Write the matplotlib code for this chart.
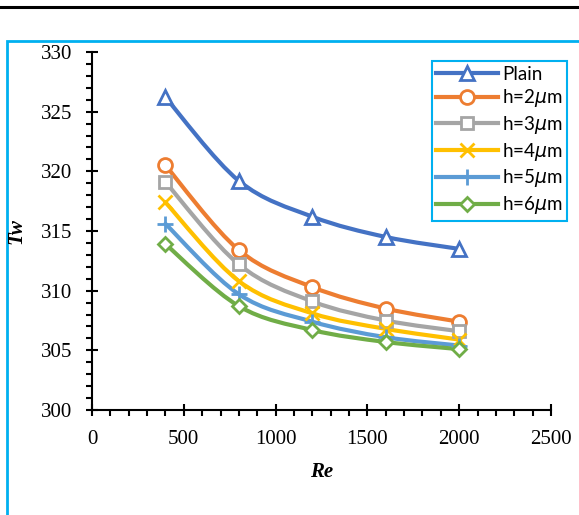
import numpy as np
import matplotlib
matplotlib.use("Agg")
import matplotlib.pyplot as plt
from matplotlib.path import Path
from matplotlib.patches import PathPatch, Rectangle
from matplotlib.lines import Line2D
from matplotlib.ticker import MultipleLocator

# Wall temperature vs Reynolds number
re_vals = [400, 800, 1200, 1600, 2000]
plain = [326.2, 319.2, 316.2, 314.5, 313.5]
h2 = [320.5, 313.4, 310.3, 308.5, 307.4]
h3 = [319.1, 312.2, 309.1, 307.5, 306.6]
h4 = [317.4, 310.8, 308.1, 306.8, 305.9]
h5 = [315.6, 309.7, 307.4, 306.1, 305.4]
h6 = [313.9, 308.7, 306.7, 305.7, 305.1]

labels = ["Plain", r"h=2$\mu$m", r"h=3$\mu$m", r"h=4$\mu$m", r"h=5$\mu$m", r"h=6$\mu$m"]
series = [plain, h2, h3, h4, h5, h6]
colors = ["#4472C4", "#ED7D31", "#A5A5A5", "#FFC000", "#5B9BD5", "#70AD47"]
markers = ["^", "o", "s", "x", "+", "D"]
msizes = [10, 10, 9, 10, 11, 7]

plt.rcParams["font.family"] = "Liberation Serif"
plt.rcParams["mathtext.fontset"] = "dejavusans"


def smooth_path(x, y):
    # Excel-like smoothed line built from cubic Bezier segments
    pts = np.column_stack([x, y]).astype(float)
    n = len(pts)
    verts = [pts[0]]
    codes = [Path.MOVETO]
    for i in range(n - 1):
        p0 = pts[i - 1] if i > 0 else pts[i]
        p1 = pts[i]
        p2 = pts[i + 1]
        p3 = pts[i + 2] if i + 2 < n else pts[i + 1]
        c1 = p1 + (p2 - p0) / 6.0
        c2 = p2 - (p3 - p1) / 6.0
        verts += [c1, c2, p2]
        codes += [Path.CURVE4] * 3
    return Path(verts, codes)


fig = plt.figure(figsize=(5.79, 5.15), dpi=100)
ax = fig.add_axes([92 / 579, 1 - 410 / 515, 459 / 579, 358 / 515])

for ys, c, m, ms, lab in zip(series, colors, markers, msizes, labels):
    ax.add_patch(PathPatch(smooth_path(re_vals, ys), fill=False, edgecolor=c,
                           lw=3, capstyle="round", zorder=2))
    mfc = "white" if m not in ("x", "+") else c
    ax.plot(re_vals, ys, ls="none", marker=m, ms=ms, mfc=mfc, mec=c, mew=2,
            zorder=3)

ax.set_xlim(0, 2500)
ax.set_ylim(300, 330)
ax.xaxis.set_major_locator(MultipleLocator(500))
ax.xaxis.set_minor_locator(MultipleLocator(100))
ax.yaxis.set_major_locator(MultipleLocator(5))
ax.yaxis.set_minor_locator(MultipleLocator(1))

for s in ["top", "right"]:
    ax.spines[s].set_visible(False)
for s in ["left", "bottom"]:
    ax.spines[s].set_linewidth(1.5)

ax.tick_params(which="major", direction="inout", length=9, width=1.5,
               labelsize=15)
ax.tick_params(axis="x", which="major", pad=10)
ax.tick_params(axis="y", which="major", pad=10)
ax.tick_params(which="minor", direction="out", length=4.5, width=1.5)

ax.set_xlabel("Re", fontweight="bold", fontstyle="italic", fontsize=15)
ax.set_ylabel("Tw", fontweight="bold", fontstyle="italic", fontsize=15)
ax.xaxis.set_label_coords(0.5, -0.145)
ax.yaxis.set_label_coords(-0.142, 0.5)

handles = [Line2D([], [], color=c, lw=3, marker=m, ms=ms,
                  mfc=("white" if m not in ("x", "+") else c), mec=c, mew=2)
           for c, m, ms in zip(colors, markers, msizes)]
leg = ax.legend(handles, labels, loc="upper right", bbox_to_anchor=(1.035, 0.975),
                borderaxespad=0, prop={"family": "Lato", "size": 13.5},
                handlelength=3.3, handletextpad=0.2, labelspacing=0.25,
                borderpad=0.25, fancybox=False, framealpha=1)
leg.get_frame().set_edgecolor("#00B0F0")
leg.get_frame().set_linewidth(1.5)

# chart area border and rule above it
fig.add_artist(Rectangle((7 / 579, -0.1), 1.1, 1 - 41 / 515 + 0.1,
                         transform=fig.transFigure, fill=False,
                         edgecolor="#00B0F0", lw=2, zorder=0))
fig.add_artist(Line2D([0, 1], [1 - 7 / 515, 1 - 7 / 515],
                      transform=fig.transFigure, color="black", lw=2.2))

fig.savefig("out.png", dpi=100)
